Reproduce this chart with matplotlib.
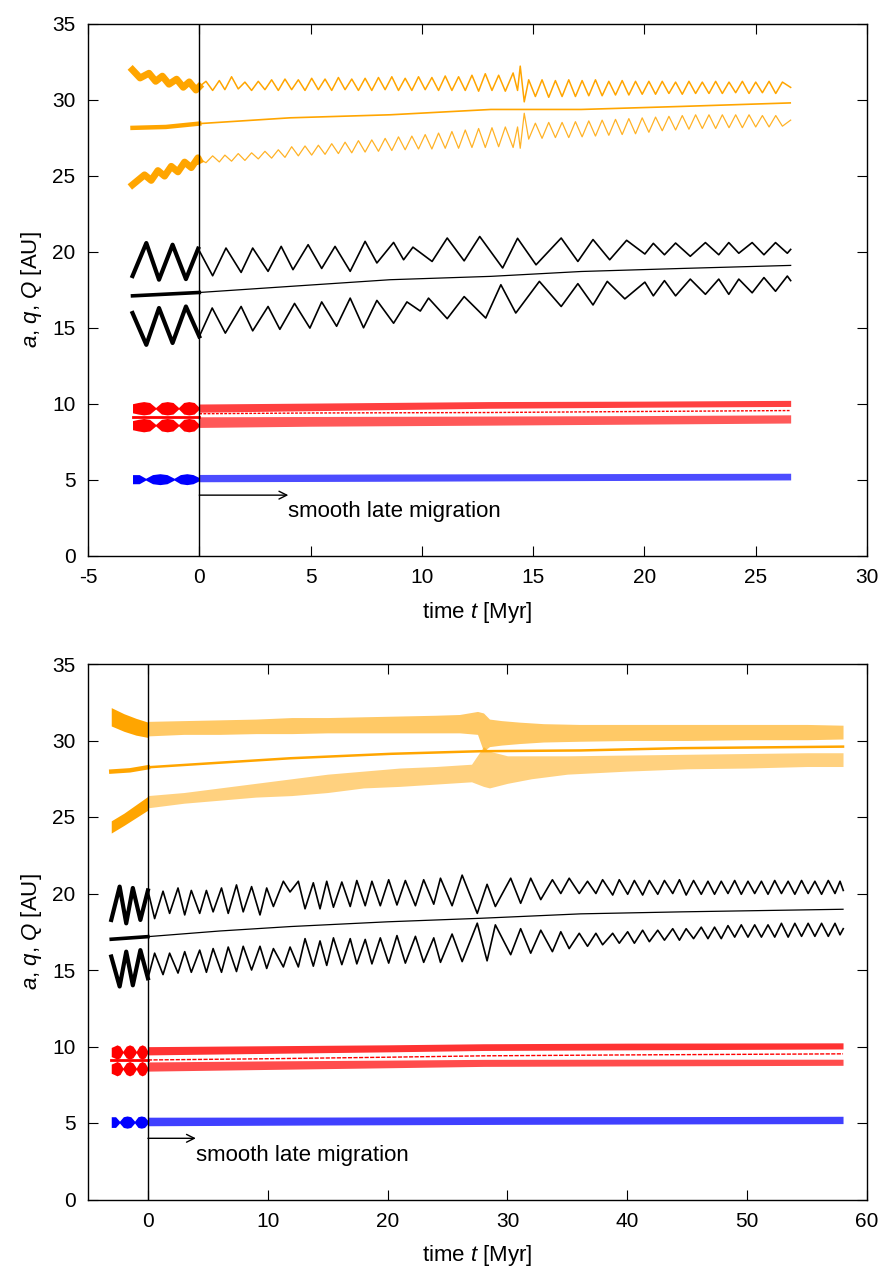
import numpy as np
import matplotlib
matplotlib.use("Agg")
import matplotlib.pyplot as plt

plt.rcParams['font.family'] = ['Liberation Sans', 'DejaVu Sans']
plt.rcParams['mathtext.fontset'] = 'custom'
plt.rcParams['mathtext.it'] = 'Liberation Sans:italic'
plt.rcParams['mathtext.rm'] = 'Liberation Sans'
plt.rcParams['axes.unicode_minus'] = False

ORANGE = '#ffa500'
RED = '#ff0000'
BLUE = '#0000ff'
BLACK = '#000000'

# ---------------- top panel (run to ~26.6 Myr) ----------------
p1_xticks = [-5, 0, 5, 10, 15, 20, 25, 30]
p1_uQ_t = [-3.0, -2.38, -1.81, -1.2, -0.6, -0.05,
           0.6, 1.2, 1.88, 2.4, 3.09, 3.68, 4.21, 4.89, 5.5, 6.1,
           6.78, 7.45, 7.98, 8.73, 9.18, 9.6, 10.46, 11.14, 11.9, 12.6,
           13.63, 14.3, 15.13, 16.26, 17.01, 17.69, 18.44, 19.2, 20.02, 20.4,
           20.9, 21.4, 22.06, 22.74, 23.34, 23.79, 24.24, 24.84, 25.37, 25.89,
           26.42, 26.57]
p1_uQ = [18.4, 20.57, 18.16, 20.46, 18.2, 20.2,
         18.42, 20.24, 18.64, 20.24, 18.71, 20.35, 18.82, 20.46, 18.9, 20.35,
         18.71, 20.68, 19.26, 20.61, 19.47, 20.3, 19.36, 20.9, 19.4, 21.0,
         18.93, 20.88, 19.14, 20.9, 19.36, 20.8, 19.47, 20.75, 19.85, 20.55,
         19.8, 20.57, 19.7, 20.6, 19.8, 20.6, 19.9, 20.6, 19.8, 20.6,
         19.9, 20.15]
p1_uq_t = [-3.0, -2.38, -1.81, -1.2, -0.6, 0.0,
           0.58, 1.17, 1.88, 2.4, 3.09, 3.62, 4.28, 4.97, 5.5, 6.17,
           6.78, 7.38, 7.98, 8.73, 9.33, 9.93, 10.3, 11.14, 11.9, 12.87,
           13.55, 14.22, 15.28, 16.26, 17.01, 17.69, 18.33, 19.12, 20.02, 20.4,
           20.9, 21.4, 22.06, 22.74, 23.34, 23.79, 24.24, 24.84, 25.37, 25.89,
           26.42, 26.57]
p1_uq = [15.97, 13.88, 16.3, 14.0, 16.4, 14.43,
         16.3, 14.65, 16.4, 14.8, 16.4, 14.9, 16.6, 14.98, 16.7, 15.1,
         16.95, 15.0, 16.8, 15.3, 16.7, 16.1, 16.95, 15.6, 17.05, 15.64,
         17.83, 15.97, 18.05, 16.4, 17.9, 16.5, 18.05, 16.9, 18.0, 17.1,
         18.1, 17.1, 18.2, 17.2, 18.2, 17.2, 18.2, 17.3, 18.3, 17.4,
         18.4, 18.1]
p1_ua_t = [-3.0, 0.0, 4.07, 8.58, 13.1, 17.16, 21.68, 26.57]
p1_ua = [17.1, 17.32, 17.72, 18.16, 18.38, 18.7, 18.9, 19.1]

# Neptune, before t = 0 (thick ripples)
p1_nQ_pre_t = [-3.0, -2.66, -2.26, -1.96, -1.66, -1.36, -1.02, -0.72, -0.45, -0.15, 0.0]
p1_nQ_pre = [31.95, 31.42, 31.73, 31.2, 31.54, 31.01, 31.34, 30.81, 31.16, 30.63, 30.85]
p1_nq_pre_t = [-3.0, -2.46, -2.16, -1.86, -1.56, -1.26, -0.96, -0.66, -0.36, -0.06, 0.0]
p1_nq_pre = [24.4, 25.05, 24.69, 25.33, 24.97, 25.61, 25.25, 25.89, 25.53, 26.17, 26.0]
# Neptune, after t = 0 (turning points of the fast oscillation)
p1_n_t = [0.0, 0.3, 0.6, 0.9, 1.15, 1.45, 1.75, 2.05, 2.35, 2.65,
          2.95, 3.25, 3.55, 3.85, 4.15, 4.45, 4.75, 5.05, 5.35, 5.65,
          5.95, 6.25, 6.55, 6.85, 7.15, 7.45, 7.75, 8.05, 8.35, 8.65,
          8.95, 9.25, 9.55, 9.85, 10.15, 10.45, 10.75, 11.05, 11.35, 11.65,
          11.95, 12.25, 12.55, 12.85, 13.15, 13.45, 13.75, 14.1, 14.3, 14.42,
          14.6, 14.8, 15.1, 15.4, 15.7, 16.0, 16.3, 16.6, 16.9, 17.2,
          17.5, 17.8, 18.1, 18.4, 18.7, 19.0, 19.3, 19.6, 19.9, 20.2,
          20.5, 20.8, 21.1, 21.4, 21.7, 22.0, 22.3, 22.6, 22.9, 23.2,
          23.5, 23.8, 24.1, 24.4, 24.7, 25.0, 25.3, 25.6, 25.9, 26.2,
          26.57]
p1_nQ = [30.85, 31.2, 30.6, 31.25, 30.65, 31.5, 30.7, 31.15, 30.6, 31.2,
         30.65, 31.3, 30.6, 31.35, 30.65, 31.3, 30.6, 31.4, 30.65, 31.35,
         30.6, 31.45, 30.65, 31.35, 30.6, 31.4, 30.6, 31.45, 30.65, 31.5,
         30.6, 31.4, 30.6, 31.5, 30.65, 31.45, 30.6, 31.55, 30.6, 31.5,
         30.6, 31.6, 30.55, 31.7, 30.6, 31.6, 30.55, 31.75, 30.6, 32.2,
         29.85, 31.3, 30.2, 31.3, 30.15, 31.25, 30.2, 31.3, 30.2, 31.25,
         30.25, 31.3, 30.25, 31.2, 30.3, 31.25, 30.3, 31.2, 30.35, 31.2,
         30.35, 31.2, 30.4, 31.15, 30.35, 31.2, 30.4, 31.15, 30.4, 31.2,
         30.4, 31.15, 30.45, 31.2, 30.4, 31.15, 30.45, 31.2, 30.4, 31.15,
         30.8]
p1_nq = [26.1, 25.85, 26.3, 25.9, 26.35, 25.95, 26.45, 26.0, 26.5, 26.1,
         26.6, 26.15, 26.7, 26.2, 26.9, 26.3, 26.95, 26.35, 27.0, 26.4,
         27.1, 26.45, 27.2, 26.5, 27.3, 26.55, 27.35, 26.6, 27.45, 26.65,
         27.55, 26.7, 27.6, 26.75, 27.7, 26.75, 27.8, 26.8, 27.9, 26.8,
         28.0, 26.85, 28.1, 26.85, 28.15, 26.9, 28.2, 26.85, 28.2, 26.8,
         29.1, 27.4, 28.45, 27.45, 28.5, 27.5, 28.5, 27.5, 28.55, 27.55,
         28.6, 27.6, 28.65, 27.65, 28.7, 27.7, 28.75, 27.75, 28.8, 27.85,
         28.85, 27.95, 28.9, 28.0, 28.95, 28.05, 29.0, 28.1, 29.0, 28.1,
         29.0, 28.15, 29.0, 28.15, 29.0, 28.2, 28.95, 28.2, 28.95, 28.25,
         28.65]
p1_na_t = [-3.0, -1.5, 0.0, 4.07, 8.58, 13.1, 17.16, 21.68, 26.55]
p1_na = [28.14, 28.2, 28.42, 28.8, 29.0, 29.35, 29.35, 29.55, 29.78]

# Saturn
p1_s_pre_t = [-3.0, -2.75, -2.5, -2.23, -1.96, -1.70, -1.44, -1.18, -0.93, -0.70, -0.47, -0.23, 0.0]
p1_s_pre_half = [0.30, 0.38, 0.44, 0.38, 0.05, 0.38, 0.44, 0.38, 0.05, 0.38, 0.44, 0.38, 0.05]
p1_sQ_pre_c = 9.71
p1_sq_pre_c = 8.6
p1_sa_pre = 9.15
p1_s_post_t = [0, 5, 13, 20, 26.57]
p1_sQ_c = [9.72, 9.8, 9.93, 9.98, 10.03]
p1_sQ_h = [0.27, 0.25, 0.22, 0.2, 0.2]
p1_sq_c = [8.8, 8.85, 8.9, 8.95, 9.01]
p1_sq_h = [0.35, 0.32, 0.3, 0.28, 0.27]
p1_sa = [9.35, 9.4, 9.43, 9.5, 9.56]

# Jupiter
p1_j_pre_t = [-3.0, -2.7, -2.41, -2.1, -1.77, -1.45, -1.13, -0.85, -0.56, -0.28, 0.0]
p1_j_pre_half = [0.3, 0.3, 0.06, 0.3, 0.36, 0.3, 0.06, 0.3, 0.36, 0.3, 0.1]
p1_j_pre_c = 5.05
p1_j_post_t = [0, 8, 16, 26.57]
p1_j_c = [5.12, 5.15, 5.18, 5.22]
p1_j_h = [0.24, 0.24, 0.23, 0.22]

# ---------------- bottom panel (run to ~58 Myr) ----------------
p2_xticks = [0, 10, 20, 30, 40, 50, 60]
p2_u_t = [-3.06, -2.36, -1.81, -1.26, -0.63, 0.0,
          0.56, 1.26, 1.81, 2.51, 3.07, 3.62, 4.32, 4.88, 5.44, 6.14,
          6.7, 7.39, 7.95, 8.65, 9.35, 9.91, 10.47, 11.3, 11.86, 12.55,
          13.11, 13.8, 14.36, 14.92, 15.48, 16.18, 16.88, 17.43, 18.13, 18.69,
          19.39, 20.09, 20.78, 21.48, 22.32, 23.01, 23.85, 24.41, 25.38, 26.22,
          27.48, 28.3, 28.99, 30.27, 31.1, 31.94, 32.78, 33.75, 34.45, 35.15,
          35.99, 36.68, 37.38, 37.94, 38.78, 39.33, 40.03, 40.59, 41.28, 41.84,
          42.54, 43.1, 43.79, 44.35, 44.91, 45.53, 46.17, 46.73, 47.28, 47.84,
          48.4, 48.96, 49.51, 50.07, 50.63, 51.19, 51.74, 52.3, 52.86, 53.42,
          53.98, 54.54, 55.09, 55.65, 56.21, 56.77, 57.33, 57.75, 58.02]
p2_uQ = [18.27, 20.45, 18.05, 20.36, 18.27, 20.2,
         18.36, 20.15, 18.7, 20.36, 18.6, 20.2, 18.7, 20.2, 18.8, 20.36,
         18.7, 20.56, 18.8, 20.45, 18.6, 20.36, 19.15, 20.8, 20.1, 20.8,
         19.0, 20.7, 19.0, 20.8, 19.1, 20.75, 19.15, 20.85, 19.2, 20.8,
         19.2, 20.9, 19.25, 20.85, 19.2, 20.9, 19.3, 21.0, 19.2, 21.2,
         18.7, 20.6, 19.15, 21.0, 19.36, 21.0, 19.6, 20.9, 20.0, 21.0,
         20.0, 20.8, 20.0, 20.9, 19.9, 20.9, 19.95, 20.85, 19.9, 20.85,
         19.95, 20.85, 20.0, 20.9, 19.9, 20.85, 19.95, 20.8, 19.95, 20.8,
         20.0, 20.85, 19.95, 20.8, 20.0, 20.8, 19.95, 20.85, 20.0, 20.8,
         19.95, 20.85, 20.0, 20.8, 19.95, 20.85, 20.0, 20.8, 20.2]
p2_uq = [15.88, 13.92, 16.2, 14.0, 16.3, 14.46,
         16.1, 14.7, 16.1, 14.8, 16.2, 14.85, 16.3, 14.85, 16.4, 14.85,
         16.5, 14.9, 16.55, 15.0, 16.55, 15.1, 16.4, 15.2, 16.5, 15.2,
         17.05, 15.25, 16.9, 15.3, 17.1, 15.35, 17.05, 15.4, 17.0, 15.4,
         17.1, 15.45, 17.25, 15.45, 17.2, 15.5, 17.1, 15.5, 17.35, 15.55,
         18.06, 15.6, 17.95, 16.0, 17.7, 16.1, 17.6, 16.2, 17.5, 16.4,
         17.4, 16.55, 17.4, 16.65, 17.4, 16.75, 17.5, 16.75, 17.6, 16.85,
         17.6, 16.95, 17.7, 16.95, 17.7, 17.05, 17.8, 17.05, 17.8, 17.05,
         17.9, 17.15, 17.95, 17.15, 17.95, 17.15, 17.95, 17.15, 18.05, 17.15,
         18.05, 17.2, 18.05, 17.2, 18.05, 17.2, 18.05, 17.3, 17.7]
p2_ua_t = [-3.06, 0.0, 6.0, 11.9, 20.0, 27.76, 36.12, 44.5, 58.0]
p2_ua = [17.01, 17.18, 17.55, 17.84, 18.15, 18.38, 18.67, 18.8, 18.97]

p2_n_pre_t = [-3.06, -2.0, -1.0, 0.0]
p2_nQ_pre_hi = [32.15, 31.75, 31.45, 31.2]
p2_nQ_pre_lo = [30.95, 30.6, 30.35, 30.2]
p2_nq_pre_hi = [24.75, 25.25, 25.8, 26.35]
p2_nq_pre_lo = [23.95, 24.45, 24.95, 25.45]
p2_nQ_env_t = [0, 3, 6, 9, 12, 15, 18, 21, 24, 26, 27.5, 28.0, 28.5, 29.5, 31, 33, 36, 40, 45, 50, 55, 58]
p2_nQ_hi = [31.25, 31.3, 31.35, 31.4, 31.5, 31.5, 31.55, 31.6, 31.65, 31.7, 31.9, 31.8, 31.4, 31.3, 31.2, 31.1, 31.05, 31.05, 31.05, 31.05, 31.05, 31.0]
p2_nQ_lo = [30.3, 30.4, 30.4, 30.45, 30.45, 30.5, 30.5, 30.5, 30.5, 30.5, 30.4, 29.3, 29.6, 29.7, 29.8, 29.9, 29.95, 30.0, 30.0, 30.05, 30.05, 30.1]
p2_nq_env_t = [0, 3, 6, 9, 12, 15, 18, 21, 24, 27, 28.0, 28.5, 30, 32, 35, 40, 45, 50, 55, 58]
p2_nq_hi = [26.4, 26.6, 26.9, 27.2, 27.5, 27.8, 28.0, 28.2, 28.3, 28.45, 29.6, 29.3, 29.0, 29.0, 29.0, 29.05, 29.1, 29.15, 29.2, 29.2]
p2_nq_lo = [25.6, 25.9, 26.1, 26.3, 26.4, 26.6, 26.9, 27.0, 27.15, 27.3, 27.0, 26.9, 27.2, 27.5, 27.8, 28.0, 28.15, 28.2, 28.3, 28.3]
p2_na_t = [-3.06, -1.5, 0.0, 6.0, 11.9, 20.3, 27.76, 36.12, 44.5, 58.0]
p2_na = [27.97, 28.05, 28.25, 28.55, 28.84, 29.13, 29.3, 29.35, 29.5, 29.6]

p2_s_pre_t = [-3.06, -2.82, -2.58, -2.33, -2.09, -1.81, -1.53, -1.25, -0.97, -0.73, -0.48, -0.24, 0.0]
p2_s_pre_half = [0.30, 0.38, 0.47, 0.38, 0.05, 0.38, 0.47, 0.38, 0.05, 0.38, 0.47, 0.38, 0.05]
p2_sQ_pre_c = 9.64
p2_sq_pre_c = 8.55
p2_sa_pre = 9.12
p2_s_post_t = [0, 10, 20, 28, 40, 58]
p2_sQ_c = [9.72, 9.8, 9.88, 9.96, 10.0, 10.04]
p2_sQ_h = [0.27, 0.25, 0.23, 0.22, 0.22, 0.2]
p2_sq_c = [8.69, 8.78, 8.86, 8.93, 8.95, 8.97]
p2_sq_h = [0.3, 0.28, 0.25, 0.23, 0.22, 0.2]
p2_sa = [9.12, 9.2, 9.3, 9.39, 9.45, 9.52]

p2_j_pre_t = [-3.06, -2.7, -2.37, -2.05, -1.74, -1.43, -1.11, -0.83, -0.55, -0.28, 0.0]
p2_j_pre_half = [0.35, 0.35, 0.06, 0.35, 0.4, 0.35, 0.06, 0.35, 0.4, 0.35, 0.1]
p2_j_pre_c = 5.06
p2_j_post_t = [0, 15, 30, 45, 58]
p2_j_c = [5.1, 5.13, 5.16, 5.18, 5.2]
p2_j_h = [0.28, 0.26, 0.25, 0.24, 0.24]

yticks = [0, 5, 10, 15, 20, 25, 30, 35]
TICK_FS = 15
LABEL_FS = 16
NOTE_FS = 16


def split_pre(t, v):
    t = np.asarray(t); v = np.asarray(v)
    m = t <= 0.0
    return t[m], v[m]


def style_axes(ax, xlim, xticks):
    ax.set_xlim(*xlim)
    ax.set_ylim(0, 35)
    ax.set_xticks(xticks)
    ax.set_yticks(yticks)
    ax.tick_params(direction='in', length=7, width=0.8, top=True, right=True,
                   labelsize=TICK_FS, pad=9)
    for s in ax.spines.values():
        s.set_linewidth(1.0)
    ax.set_xlabel(r'time $t$ [Myr]', fontsize=LABEL_FS, labelpad=9)
    ax.set_ylabel(r'$a$, $q$, $Q$ [AU]', fontsize=LABEL_FS, labelpad=6)
    ax.axvline(0, color=BLACK, lw=1.0, zorder=5)
    ax.annotate('', xy=(4.0, 4.0), xytext=(0.0, 4.0),
                arrowprops=dict(arrowstyle='->', lw=1.0, color=BLACK,
                                shrinkA=0, shrinkB=0, mutation_scale=14))
    ax.text(4.0, 2.9, 'smooth late migration', fontsize=NOTE_FS,
            ha='left', va='center')


def draw_uranus(ax, Qt, Q, qt, q, at, a):
    for tt, vv in ((Qt, Q), (qt, q)):
        ax.plot(tt, vv, color=BLACK, lw=1.2, solid_joinstyle='round')
        pt, pv = split_pre(tt, vv)
        ax.plot(pt, pv, color=BLACK, lw=3.0, solid_joinstyle='round')
    ax.plot(at, a, color=BLACK, lw=0.9)
    pt, pv = split_pre(at, a)
    ax.plot(pt, pv, color=BLACK, lw=2.6)


def draw_beads(ax, t, half, c, color):
    t = np.asarray(t); h = np.asarray(half)
    ax.fill_between(t, c - h, c + h, color=color, lw=0)


def draw_band(ax, t, c, h, color, alpha):
    c = np.asarray(c); h = np.asarray(h)
    ax.fill_between(t, c - h, c + h, color=color, lw=0, alpha=alpha)


fig = plt.figure(figsize=(8.85, 12.68), dpi=100)
ax1 = fig.add_axes([88 / 885, 1 - 556 / 1268, 779 / 885, 532.5 / 1268])
ax2 = fig.add_axes([88 / 885, 1 - 1199.5 / 1268, 779 / 885, 535.5 / 1268])

# ---- top panel ----
ax = ax1
ax.plot(p1_nQ_pre_t, p1_nQ_pre, color=ORANGE, lw=5.0, solid_joinstyle='round')
ax.plot(p1_nq_pre_t, p1_nq_pre, color=ORANGE, lw=5.0, solid_joinstyle='round')
ax.plot(p1_n_t, p1_nQ, color=ORANGE, lw=1.1)
ax.plot(p1_n_t, p1_nq, color=ORANGE, lw=0.9, alpha=0.85)
ax.plot(p1_na_t, p1_na, color=ORANGE, lw=1.2)
pt, pv = split_pre(p1_na_t, p1_na)
ax.plot(pt, pv, color=ORANGE, lw=3.2)
draw_uranus(ax, p1_uQ_t, p1_uQ, p1_uq_t, p1_uq, p1_ua_t, p1_ua)
draw_beads(ax, p1_s_pre_t, p1_s_pre_half, p1_sQ_pre_c, RED)
draw_beads(ax, p1_s_pre_t, p1_s_pre_half, p1_sq_pre_c, RED)
ax.plot([p1_s_pre_t[0], 0], [p1_sa_pre, p1_sa_pre], color=RED, lw=2.0)
draw_band(ax, p1_s_post_t, p1_sQ_c, p1_sQ_h, RED, 0.75)
draw_band(ax, p1_s_post_t, p1_sq_c, p1_sq_h, RED, 0.65)
ax.plot(p1_s_post_t, p1_sa, color=RED, lw=1.0, ls=(0, (2, 1)))
draw_beads(ax, p1_j_pre_t, p1_j_pre_half, p1_j_pre_c, BLUE)
draw_band(ax, p1_j_post_t, p1_j_c, p1_j_h, BLUE, 0.7)
style_axes(ax, (-5, 30), p1_xticks)

# ---- bottom panel ----
ax = ax2
ax.fill_between(p2_n_pre_t, p2_nQ_pre_lo, p2_nQ_pre_hi, color=ORANGE, lw=0)
ax.fill_between(p2_n_pre_t, p2_nq_pre_lo, p2_nq_pre_hi, color=ORANGE, lw=0)
ax.fill_between(p2_nQ_env_t, p2_nQ_lo, p2_nQ_hi, color=ORANGE, lw=0, alpha=0.6)
ax.fill_between(p2_nq_env_t, p2_nq_lo, p2_nq_hi, color=ORANGE, lw=0, alpha=0.5)
ax.plot(p2_na_t, p2_na, color=ORANGE, lw=1.8)
pt, pv = split_pre(p2_na_t, p2_na)
ax.plot(pt, pv, color=ORANGE, lw=3.2)
draw_uranus(ax, p2_u_t, p2_uQ, p2_u_t, p2_uq, p2_ua_t, p2_ua)
draw_beads(ax, p2_s_pre_t, p2_s_pre_half, p2_sQ_pre_c, RED)
draw_beads(ax, p2_s_pre_t, p2_s_pre_half, p2_sq_pre_c, RED)
ax.plot([p2_s_pre_t[0], 0], [p2_sa_pre, p2_sa_pre], color=RED, lw=2.0)
draw_band(ax, p2_s_post_t, p2_sQ_c, p2_sQ_h, RED, 0.8)
draw_band(ax, p2_s_post_t, p2_sq_c, p2_sq_h, RED, 0.7)
ax.plot(p2_s_post_t, p2_sa, color=RED, lw=1.0, ls=(0, (3, 1)))
draw_beads(ax, p2_j_pre_t, p2_j_pre_half, p2_j_pre_c, BLUE)
draw_band(ax, p2_j_post_t, p2_j_c, p2_j_h, BLUE, 0.75)
style_axes(ax, (-5, 60), p2_xticks)

fig.savefig('out.png', dpi=100)
